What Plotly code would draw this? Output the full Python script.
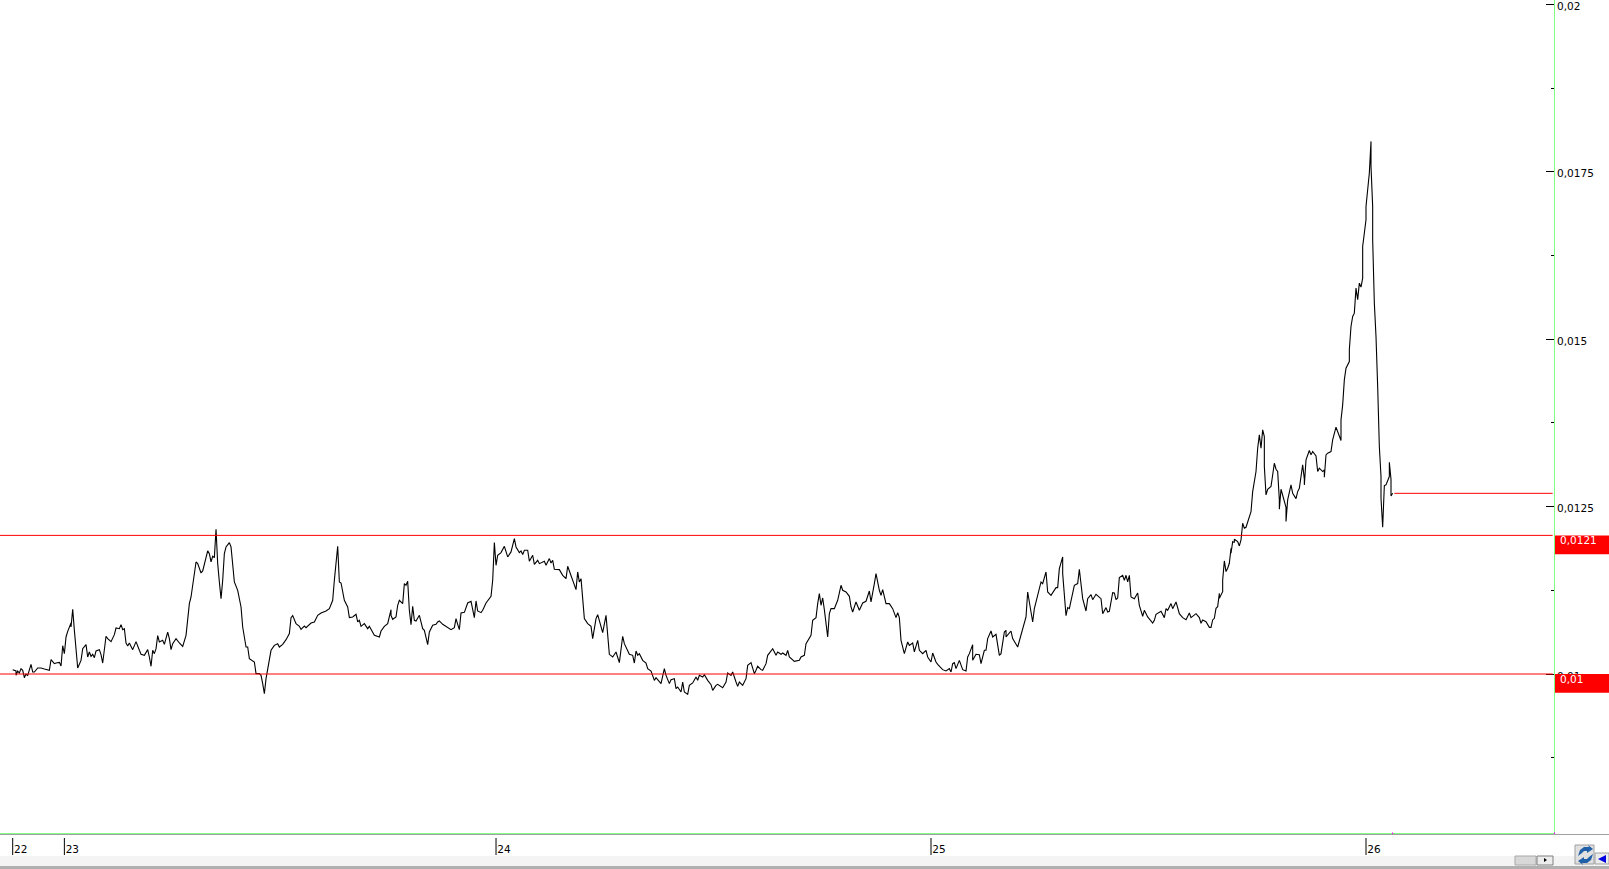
import plotly.graph_objects as go

# session number along the x axis (one bar per trading day)
bars = [
    0, 2, 2, 3, 4, 5, 6, 7, 8, 8, 9, 11, 12, 13, 15, 17, 19, 22, 23, 25, 26, 28, 29, 30, 31, 32, 33, 35, 35, 36, 37, 38,
    39, 41, 42, 44, 45, 46, 47, 48, 49, 50, 52, 53, 54, 56, 57, 59, 61, 62, 64, 65, 66, 67, 68, 69, 70, 72, 74, 76, 77, 79,
    81, 82, 83, 84, 85, 86, 87, 88, 90, 91, 93, 94, 95, 96, 98, 100, 102, 104, 105, 106, 107, 109, 110, 111, 113, 114, 117, 118, 119, 120,
    121, 122, 123, 124, 125, 126, 127, 128, 130, 131, 133, 135, 136, 137, 138, 139, 140, 141, 142, 145, 146, 148, 149, 150, 151, 152, 154, 155, 157, 159,
    160, 162, 164, 166, 167, 168, 170, 172, 173, 175, 176, 179, 181, 183, 185, 188, 190, 192, 193, 195, 196, 197, 199, 201, 202, 204, 206, 207, 208, 209,
    211, 213, 214, 216, 217, 220, 221, 223, 225, 227, 227, 228, 230, 231, 232,
    234, 235, 236, 237, 238, 239, 240, 241, 242, 244, 246, 247, 249, 250, 252, 254, 255, 256, 258, 260, 263, 265, 266, 267, 268, 269, 271, 273, 275, 277,
    278, 279, 281, 282, 284, 287, 288, 289, 290, 291, 293, 295, 296, 297, 299, 301, 302, 304, 305, 306, 307, 309, 310, 312, 313, 315, 316, 319, 320, 322,
    323, 324, 325, 328, 330, 332, 333, 335, 338, 339, 340, 341, 342, 343, 345, 347, 348, 350, 351, 353, 354, 356, 357, 358, 360, 362, 364, 366, 367, 368,
    370, 372, 373, 374, 375, 376, 378, 380, 381, 383, 384, 385, 386, 389, 391, 392, 394, 395, 397, 398, 399, 401, 402, 403, 405, 406, 408, 410, 411, 412,
    414, 415, 417, 419, 420, 422, 423, 426, 428, 429, 431, 432, 434, 435, 436, 438, 440, 441, 443, 445, 446, 447, 449, 450, 452, 453, 456, 458, 459, 461,
    462, 464, 465, 466, 469, 472,
    473, 475, 476, 479, 480, 482, 483, 484, 485, 486, 487, 489, 490, 491, 493, 495, 497, 498, 500, 502, 503, 504, 506, 508, 510, 512, 514, 515, 517, 518,
    520, 521, 522, 524, 526, 528, 530, 531, 532, 533, 535, 537, 538, 540, 541, 543, 544, 546, 548, 549, 551, 552, 554, 555, 558, 560, 562, 563, 564, 565,
    566, 568, 570, 572, 573, 574, 576, 576, 578, 580, 581, 583, 584, 585, 587, 588, 590, 592, 593, 595, 596, 596, 599, 600, 603, 607, 608, 609, 610, 612,
    613, 615, 617, 618, 620, 621, 623, 626, 627, 628, 630, 630, 632, 633, 634, 637, 639, 640, 642, 644, 645, 647, 648, 650, 653, 654, 656, 657, 658, 660,
    661, 662, 663, 664, 666, 667, 668, 669, 670, 671, 673, 675, 676, 678, 679, 681, 682, 684, 685, 686, 689, 691, 692, 693, 695, 696, 698, 700, 702, 704,
    706, 707, 710, 712,
    713, 714, 716, 718, 719, 720, 721, 722, 723, 724, 724, 726, 726, 727, 728, 729, 730, 731, 731, 732, 733, 733, 735, 736, 737, 738, 739, 740, 742, 743,
    744, 746, 747, 748, 749, 750, 751, 751, 752, 753, 755, 756, 757, 758, 759, 760, 760, 761, 762, 764, 764, 765, 767, 768, 770, 771, 772, 774, 775, 775,
    776, 778, 779, 780, 782, 783, 784, 786, 787, 787, 788, 789, 791, 792, 794, 796, 797, 797,
    798, 799, 800, 802, 802, 803, 804, 805, 806, 807, 808, 809, 810, 810, 812, 812, 814, 815, 815, 816, 816, 817, 818, 819, 820, 821, 821, 822,
    823, 823, 824, 826, 826, 827, 827, 828,
]

prices = [
    0.010065, 0.010045, 0.00998, 0.010045, 0.010015, 0.01008, 0.010055, 0.009945, 0.010005, 0.009995, 0.00998, 0.010144, 0.01003, 0.01003, 0.01009, 0.01009,
    0.010075, 0.010055, 0.010214, 0.010154, 0.010164, 0.010174, 0.01012, 0.010423, 0.010304, 0.010553, 0.010637, 0.010762, 0.010702, 0.010966, 0.010652, 0.010403,
    0.01009, 0.010204, 0.010378, 0.010438, 0.010254, 0.010329, 0.010264, 0.010294, 0.010244, 0.010344, 0.010364, 0.010289, 0.010164, 0.010563, 0.010528, 0.010483,
    0.010588, 0.010687, 0.010677, 0.010737, 0.010662, 0.010677, 0.010463, 0.010418, 0.010463, 0.010364, 0.010483, 0.010354, 0.010294, 0.010279,
    0.010364, 0.010254, 0.010115, 0.010354, 0.010304, 0.010378, 0.010573, 0.010478, 0.010503, 0.010443, 0.010627, 0.010528, 0.010364, 0.010453, 0.010528, 0.010463,
    0.010413, 0.010578, 0.010777, 0.011051, 0.01115, 0.011499, 0.011673, 0.011648, 0.011509, 0.011539, 0.011838, 0.011798, 0.011673, 0.011758,
    0.011738, 0.012161, 0.011648, 0.011374, 0.011125, 0.011399, 0.011798, 0.011897, 0.011962, 0.011897, 0.011374, 0.01125, 0.011101, 0.011001, 0.010702, 0.010528,
    0.010403, 0.010403, 0.010229, 0.010179, 0.010005, 0.010005, 0.00998, 0.009856, 0.009706, 0.00993, 0.010254, 0.010354, 0.010428, 0.010453,
    0.010403, 0.010443, 0.010513, 0.010603, 0.010842, 0.010872, 0.010752, 0.010712, 0.010667, 0.010717, 0.010692, 0.010762, 0.010777, 0.010876, 0.010911, 0.010941,
    0.010976, 0.011101, 0.011399, 0.011907, 0.011374, 0.011359, 0.011101, 0.011001, 0.010842, 0.010852, 0.010891, 0.010777, 0.010802, 0.010712,
    0.010752, 0.010677, 0.010712, 0.010627, 0.010578, 0.010553, 0.010642, 0.010712, 0.010752, 0.010961, 0.010876, 0.010817, 0.010852, 0.011026, 0.011101,
    0.011051, 0.01135, 0.011325, 0.011384, 0.010951, 0.010737, 0.011011, 0.010802, 0.010792, 0.010876, 0.010677, 0.010652, 0.010438, 0.010627, 0.010727, 0.010742,
    0.010777, 0.010792, 0.010742, 0.010712, 0.010662, 0.010692, 0.010827, 0.010742, 0.010662, 0.010911, 0.010921, 0.011061, 0.011086, 0.010842,
    0.011091, 0.010941, 0.010916, 0.010951, 0.011061, 0.01116, 0.011399, 0.011962, 0.011623, 0.011773, 0.011813, 0.011907, 0.011823, 0.011748, 0.011823, 0.012022,
    0.011897, 0.011813, 0.011838, 0.011783, 0.011848, 0.011848, 0.011683, 0.011773, 0.011638, 0.011698, 0.011648, 0.011683, 0.011623, 0.011723,
    0.011658, 0.011698, 0.011564, 0.011559, 0.011474, 0.011424, 0.011609, 0.011474, 0.01126, 0.011524, 0.011374, 0.011424, 0.011051, 0.010827, 0.010752, 0.010712,
    0.010528, 0.010827, 0.010886, 0.010727, 0.010618, 0.010876, 0.010603, 0.010294, 0.010254, 0.010329, 0.010169, 0.010563, 0.010453, 0.010403,
    0.010294, 0.010279, 0.010164, 0.010344, 0.010279, 0.010304, 0.010204, 0.010164, 0.01008, 0.010045, 0.00998, 0.009905, 0.009945, 0.009856, 0.01008, 0.00998,
    0.009856, 0.009915, 0.00993, 0.009781, 0.009806, 0.009731, 0.00988, 0.009731, 0.009696, 0.009831, 0.009866, 0.009955, 0.009905, 0.00998,
    0.009955, 0.00999, 0.009905, 0.009841, 0.009756, 0.009831, 0.009846, 0.009796, 0.00988, 0.010015, 0.00998, 0.01003, 0.00988, 0.009816, 0.00988, 0.009831,
    0.00993, 0.010129, 0.010169, 0.010005, 0.010055, 0.010115, 0.010065, 0.010055, 0.010154, 0.010279, 0.010378, 0.010279, 0.010329, 0.010294,
    0.010314, 0.010279, 0.010354, 0.010254, 0.010189, 0.010204,
    0.010254, 0.010279, 0.010453, 0.010578, 0.010802, 0.010842, 0.011051, 0.0112, 0.011026, 0.011135, 0.010961, 0.010553, 0.010901, 0.010976, 0.010976, 0.011101,
    0.011325, 0.01125, 0.011225, 0.01116, 0.011001, 0.010926, 0.011076, 0.010951, 0.011061, 0.011086, 0.01124, 0.011076, 0.01135, 0.011499,
    0.01125, 0.011175, 0.01126, 0.011051, 0.011051, 0.010976, 0.010842, 0.010916, 0.010842, 0.010503, 0.010304, 0.010478, 0.010428, 0.010463, 0.010329, 0.010503,
    0.010354, 0.010304, 0.010354, 0.010254, 0.010179, 0.010314, 0.010179, 0.010144, 0.010065, 0.010045, 0.01008, 0.01003, 0.010154, 0.010169,
    0.01008, 0.010204, 0.010065, 0.010045, 0.010254, 0.010304, 0.010438, 0.010204, 0.010294, 0.010289, 0.010154, 0.010354, 0.010354, 0.010528, 0.010642, 0.010553,
    0.010593, 0.010279, 0.010304, 0.010627, 0.010652, 0.010553, 0.010642, 0.010528, 0.010403, 0.010752, 0.010852, 0.011225, 0.011076, 0.010777,
    0.010976, 0.011175, 0.011374, 0.01135, 0.011524, 0.011225, 0.011175, 0.01129, 0.01129, 0.011574, 0.011748, 0.011499, 0.010871, 0.010991, 0.010976, 0.011325,
    0.01135, 0.011564, 0.011125, 0.010941, 0.011125, 0.011185, 0.01111, 0.01119, 0.011125, 0.010901, 0.010991, 0.010926, 0.010936, 0.011215,
    0.01121, 0.01111, 0.011135, 0.011439, 0.011474, 0.011399, 0.011474, 0.011374, 0.011474, 0.01115, 0.011125, 0.01121, 0.011026, 0.010862, 0.010951, 0.010852,
    0.010827, 0.010762, 0.010802, 0.010891, 0.010936, 0.010842, 0.010976, 0.010951, 0.011051, 0.010976, 0.011076, 0.010901, 0.010842, 0.010812,
    0.010911, 0.010842, 0.010901, 0.010842,
    0.010757, 0.010807, 0.010782, 0.010697, 0.010697, 0.010807, 0.010832, 0.010981, 0.011006, 0.011205, 0.01113, 0.01123, 0.011404, 0.011688, 0.011529, 0.011579,
    0.011653, 0.011877, 0.011803, 0.011977, 0.011962, 0.012012, 0.011977, 0.011912, 0.012002, 0.012251, 0.012176, 0.012191, 0.012326, 0.012425,
    0.012724, 0.013023, 0.013371, 0.013571, 0.013371, 0.013645, 0.013546, 0.013098, 0.012674, 0.012759, 0.012799, 0.012973, 0.013147, 0.013058, 0.013023, 0.0126,
    0.01246, 0.012759, 0.012674, 0.01249, 0.012276, 0.0126, 0.012824, 0.012699, 0.012619, 0.012724, 0.012774, 0.013122, 0.012908, 0.012824,
    0.013197, 0.013337, 0.013272, 0.013322, 0.013257, 0.013023, 0.013073, 0.013023, 0.013048, 0.012938, 0.013272, 0.013297, 0.013322, 0.013496, 0.013685, 0.013546,
    0.013486, 0.013795,
    0.014019, 0.014392, 0.014567, 0.014666, 0.014841, 0.015189, 0.015339, 0.015388, 0.015762, 0.015588, 0.015837, 0.015777, 0.015911, 0.016384, 0.016783, 0.016982,
    0.01748, 0.017953, 0.01758, 0.016982, 0.016484, 0.015538, 0.01504, 0.014293, 0.013396, 0.012948, 0.012624, 0.012191,
    0.012649, 0.012814, 0.012824, 0.012948, 0.013162, 0.012908, 0.012659, 0.012699,
]

year_bars = [0, 31, 290, 551, 812]
year_labels = ['22', '23', '24', '25', '26']
price_ticks = [0.01, 0.0125, 0.015, 0.0175, 0.02]
price_labels = ['0,01', '0,0125', '0,015', '0,0175', '0,02']
minor_price_ticks = [0.00875, 0.01125, 0.01375, 0.01625, 0.01875]

levels = [0.01, 0.01207]
level_labels = ['0,01', '0,0121']
last_level = 0.012698
last_level_from = 829
last_level_to = 924

W, H = 1609, 869
PLOT_R, PLOT_B = 1554, 833
GREEN = '#80ff80'


# window pixels to paper coordinates, for the window furniture under the chart
def px(x):
    return x / PLOT_R


def py(y):
    return (PLOT_B - y) / PLOT_B


def box(x0, y0, x1, y1, fill, line=None):
    fig.add_shape(type='rect', xref='paper', yref='paper', layer='above',
                  x0=px(x0), x1=px(x1), y0=py(y0), y1=py(y1), fillcolor=fill,
                  line=dict(color=line or fill, width=1 if line else 0))


def poly(points, fill):
    path = 'M ' + ' L '.join(f'{px(x)} {py(y)}' for x, y in points) + ' Z'
    fig.add_shape(type='path', xref='paper', yref='paper', layer='above', path=path,
                  fillcolor=fill, line=dict(width=0))


fig = go.Figure()
fig.add_trace(go.Scatter(x=bars, y=prices, mode='lines', line=dict(color='black', width=1.1), hoverinfo='skip'))

for level in levels:
    fig.add_shape(type='line', xref='x', yref='y', x0=-8, x1=last_level_to, y0=level, y1=level,
                  line=dict(color='#ff0000', width=1))
fig.add_shape(type='line', xref='x', yref='y', x0=last_level_from, x1=last_level_to,
              y0=last_level, y1=last_level, line=dict(color='#ff0000', width=1))

# year marks stand clear of the axis line
for b in year_bars:
    fig.add_shape(type='line', xref='x', yref='paper', x0=b, x1=b, y0=py(838), y1=py(855),
                  line=dict(color='black', width=1))

# red price boxes right of the axis
for level, label in zip(levels, level_labels):
    fig.add_shape(type='rect', xref='paper', yref='y', layer='above', x0=px(1555), x1=px(W),
                  y0=level, y1=level - 0.00028, fillcolor='#ff0000', line=dict(width=0))
    fig.add_annotation(xref='paper', yref='y', x=px(1558), y=level - 0.00007, text=label, showarrow=False,
                       xanchor='left', yanchor='middle', font=dict(color='white', size=10.5))

# bottom strip, scroller and buttons
box(0, 834, W, 835, '#a0a0a0')
box(0, 856, W, 866, '#f4f4f4')
box(0, 866, W, H, '#b0b0b0')
box(1392, 832.5, 1393, 834, '#ff00ff')
box(1554, 832.5, 1555, 834, '#ff00ff')
box(1515, 856, 1536, 865, '#d8d8d8', '#a8a8a8')
box(1537, 856, 1553, 865, '#ececec', '#808080')
poly([(1544, 858), (1544, 862), (1547, 860)], 'black')
box(1575, 845, 1594, 864, '#e0e0e0', '#a0a0a0')
box(1595, 853, W, 864, '#ececec', '#a0a0a0')
poly([(1606, 855), (1606, 863), (1598, 859)], '#0000e0')
# the two swooshes of the refresh button
swoosh = [(1578, 856), (1580, 850), (1584, 847), (1589, 847), (1588, 845), (1593, 849),
          (1587, 853), (1587, 851), (1584, 851), (1582, 853)]
poly(swoosh, '#2060a8')
poly([(2 * 1585.5 - x, 2 * 855 - y) for x, y in swoosh], '#2060a8')

fig.update_layout(
    width=W, height=H, showlegend=False, plot_bgcolor='white', paper_bgcolor='white',
    margin=dict(l=0, r=W - PLOT_R, t=0, b=H - PLOT_B),
    font=dict(family='DejaVu Sans', size=10.5, color='black'),
    xaxis=dict(range=[-7.62, 924.8], tickvals=year_bars, ticktext=year_labels, ticks='', showgrid=False,
               zeroline=False, showline=True, linecolor=GREEN, linewidth=1,
               ticklabelshift=8, ticklabelstandoff=6),
    yaxis=dict(range=[0.007626, 0.020064], side='right', tickvals=price_ticks, ticktext=price_labels,
               ticks='inside', ticklen=8, tickcolor='black', tickwidth=1, showgrid=False, zeroline=False,
               showline=True, linecolor=GREEN, linewidth=1, ticklabelstandoff=0, ticklabelshift=2,
               ticklabeloverflow='allow',
               minor=dict(tickvals=minor_price_ticks, ticks='inside', ticklen=3, tickcolor='black', tickwidth=1)),
)

fig.write_html("out.html", config={'displayModeBar': False},
               post_script="document.body.style.margin='0';document.body.style.overflow='hidden';")
